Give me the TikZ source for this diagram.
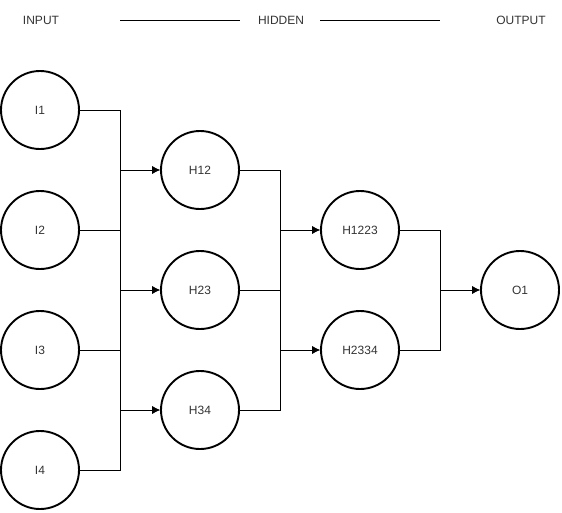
\documentclass[tikz,border=0pt]{standalone}
\usepackage{fontspec}
\setmainfont{Liberation Sans}
\usetikzlibrary{arrows.meta}
\definecolor{txt}{HTML}{333333}
\begin{document}
\begin{tikzpicture}[x=1pt,y=-1pt,
  neuron/.style={circle,draw=black,line width=1.9pt,minimum size=78pt,inner sep=0pt,
    text=txt,font=\fontsize{12}{14}\selectfont},
  header/.style={text=txt,font=\fontsize{12}{14}\selectfont},
  wire/.style={line width=1pt},
  link/.style={line width=1pt,-{Latex[length=8pt,width=8pt]}}]
\useasboundingbox (0,0) rectangle (562,512);
% layer titles
\node[header] (tin) at (41,20) {INPUT};
\node[header] (thid) at (281,20) {HIDDEN};
\node[header] (tout) at (521,20) {OUTPUT};
\coordinate (la) at (120,20); \coordinate (lb) at (240,20);
\coordinate (lc) at (320,20); \coordinate (ld) at (440,20);
\draw[wire] (la) -- (lb);
\draw[wire] (lc) -- (ld);
% neurons
\node[neuron] (i1) at (40,110) {I1};
\node[neuron] (i2) at (40,230) {I2};
\node[neuron] (i3) at (40,350) {I3};
\node[neuron] (i4) at (40,470) {I4};
\node[neuron] (h12) at (200,170) {H12};
\node[neuron] (h23) at (200,290) {H23};
\node[neuron] (h34) at (200,410) {H34};
\node[neuron] (h1223) at (360,230) {H1223};
\node[neuron] (h2334) at (360,350) {H2334};
\node[neuron] (o1) at (520,290) {O1};
% input -> first hidden layer
\draw[link] (i1.east) -| (120,170) -- (h12.west);
\draw[link] (i2.east) -| (120,170) -- (h12.west);
\draw[link] (i2.east) -| (120,290) -- (h23.west);
\draw[link] (i3.east) -| (120,290) -- (h23.west);
\draw[link] (i3.east) -| (120,410) -- (h34.west);
\draw[link] (i4.east) -| (120,410) -- (h34.west);
% first -> second hidden layer
\draw[link] (h12.east) -| (280,230) -- (h1223.west);
\draw[link] (h23.east) -| (280,230) -- (h1223.west);
\draw[link] (h23.east) -| (280,350) -- (h2334.west);
\draw[link] (h34.east) -| (280,350) -- (h2334.west);
% second hidden layer -> output
\draw[link] (h1223.east) -| (440,290) -- (o1.west);
\draw[link] (h2334.east) -| (440,290) -- (o1.west);
\end{tikzpicture}
\end{document}
